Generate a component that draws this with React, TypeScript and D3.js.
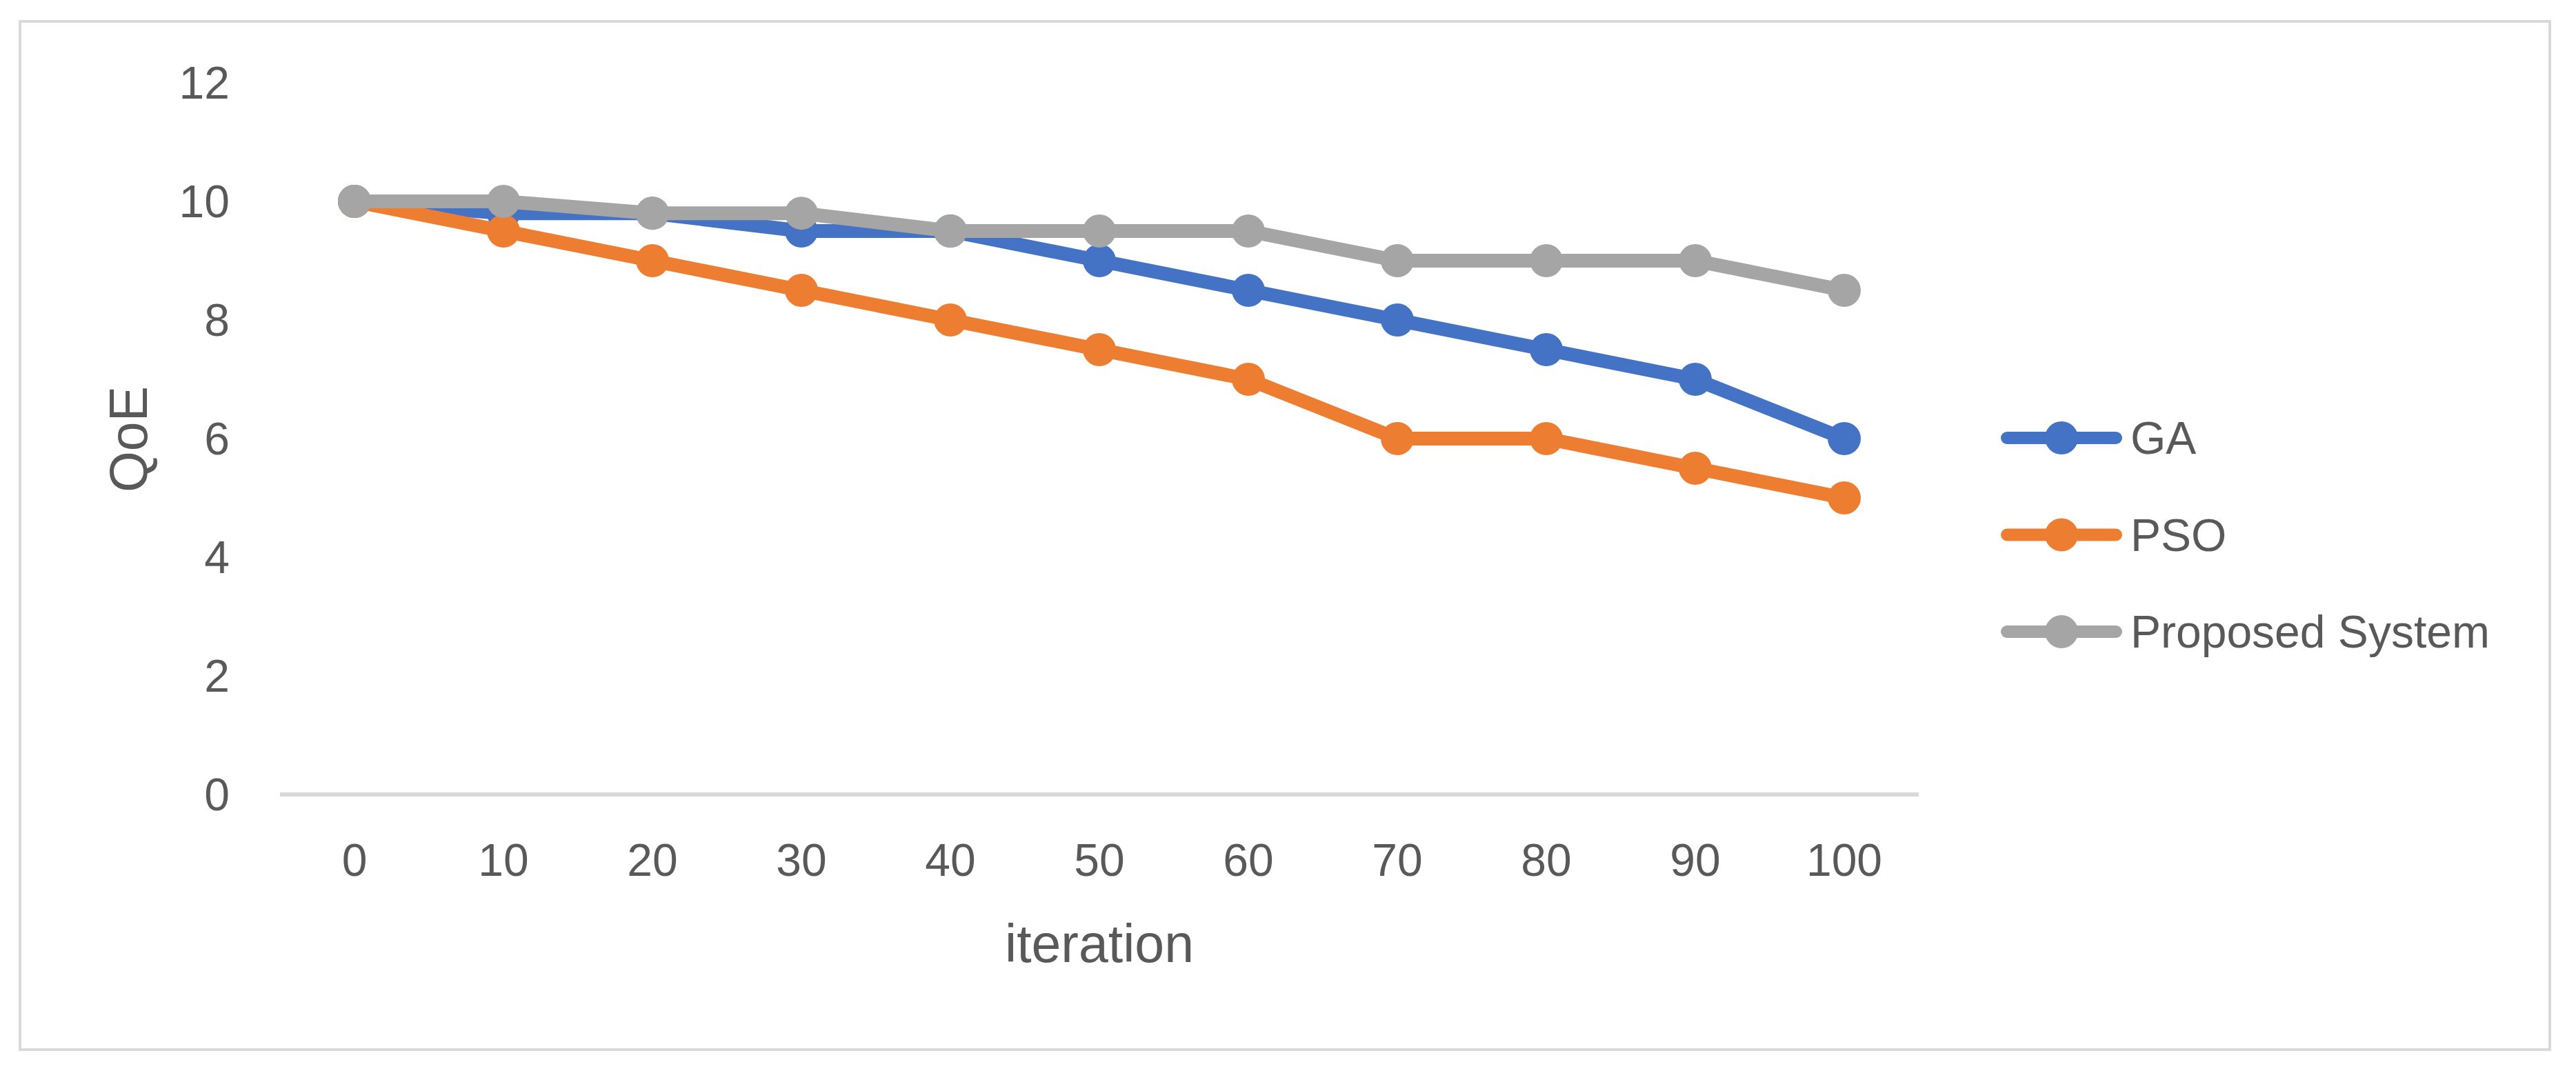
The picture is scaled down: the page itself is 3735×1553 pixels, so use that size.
import React from "react";
import * as d3 from "d3";

const iterations = ["0", "10", "20", "30", "40", "50", "60", "70", "80", "90", "100"];
const gaValues = [10, 9.8, 9.8, 9.5, 9.5, 9, 8.5, 8, 7.5, 7, 6];
const psoValues = [10, 9.5, 9, 8.5, 8, 7.5, 7, 6, 6, 5.5, 5];
const proposedValues = [10, 10, 9.8, 9.8, 9.5, 9.5, 9.5, 9, 9, 9, 8.5];
const yTicks = [0, 2, 4, 6, 8, 10, 12];
const seriesNames = ["GA", "PSO", "Proposed System"];
const seriesColors = ["#4472C4", "#ED7D31", "#A5A5A5"];

const W = 3735;
const H = 1553;
const FONT = "'Liberation Sans', Arial, sans-serif";
const TEXT = "#595959";

export default function App() {
  const x = d3.scaleBand<string>().domain(iterations).range([406, 2782]).padding(0);
  const y = d3.scaleLinear().domain([0, 12]).range([1152, 120]);
  const cx = (c: string) => (x(c) as number) + x.bandwidth() / 2;
  const series = [gaValues, psoValues, proposedValues];
  const line = d3
    .line<number>()
    .x((_, i) => cx(iterations[i]))
    .y((v) => y(v));

  return (
    <svg
      width={W}
      height={H}
      style={{ position: "absolute", left: 0, top: 0, display: "block", background: "#fff" }}
    >
      <rect x={0} y={0} width={W} height={H} fill="#fff" />
      <rect x={29} y={31} width={3697 - 29} height={1522 - 31} fill="#fff" stroke="#D9D9D9" strokeWidth={4} />

      {/* y tick labels */}
      {yTicks.map((t) => (
        <text
          key={t}
          x={333}
          y={y(t)}
          dy="0.35em"
          textAnchor="end"
          fontFamily={FONT}
          fontSize={66}
          fill={TEXT}
        >
          {t}
        </text>
      ))}

      {/* x axis line */}
      <line x1={406} x2={2782} y1={y(0)} y2={y(0)} stroke="#D9D9D9" strokeWidth={6} />

      {/* x tick labels */}
      {iterations.map((c) => (
        <text
          key={c}
          x={cx(c)}
          y={1247}
          dy="0.35em"
          textAnchor="middle"
          fontFamily={FONT}
          fontSize={66}
          fill={TEXT}
        >
          {c}
        </text>
      ))}

      {/* axis titles */}
      <text x={1594} y={1395} textAnchor="middle" fontFamily={FONT} fontSize={77} fill={TEXT}>
        iteration
      </text>
      <text
        transform={`translate(213,637) rotate(-90)`}
        textAnchor="middle"
        fontFamily={FONT}
        fontSize={77}
        fill={TEXT}
      >
        QoE
      </text>

      {/* series */}
      {series.map((vals, si) => (
        <g key={si}>
          <path
            d={line(vals) as string}
            fill="none"
            stroke={seriesColors[si]}
            strokeWidth={20}
            strokeLinejoin="round"
            strokeLinecap="round"
          />
          {vals.map((v, i) => (
            <circle key={i} cx={cx(iterations[i])} cy={y(v)} r={24} fill={seriesColors[si]} />
          ))}
        </g>
      ))}

      {/* legend */}
      {seriesNames.map((name, i) => {
        const ly = 635 + i * 140.5;
        return (
          <g key={name}>
            <line x1={2910} x2={3068} y1={ly} y2={ly} stroke={seriesColors[i]} strokeWidth={18} strokeLinecap="round" />
            <circle cx={2989} cy={ly} r={24} fill={seriesColors[i]} />
            <text x={3089} y={ly} dy="0.35em" fontFamily={FONT} fontSize={66} fill={TEXT}>
              {name}
            </text>
          </g>
        );
      })}
    </svg>
  );
}
